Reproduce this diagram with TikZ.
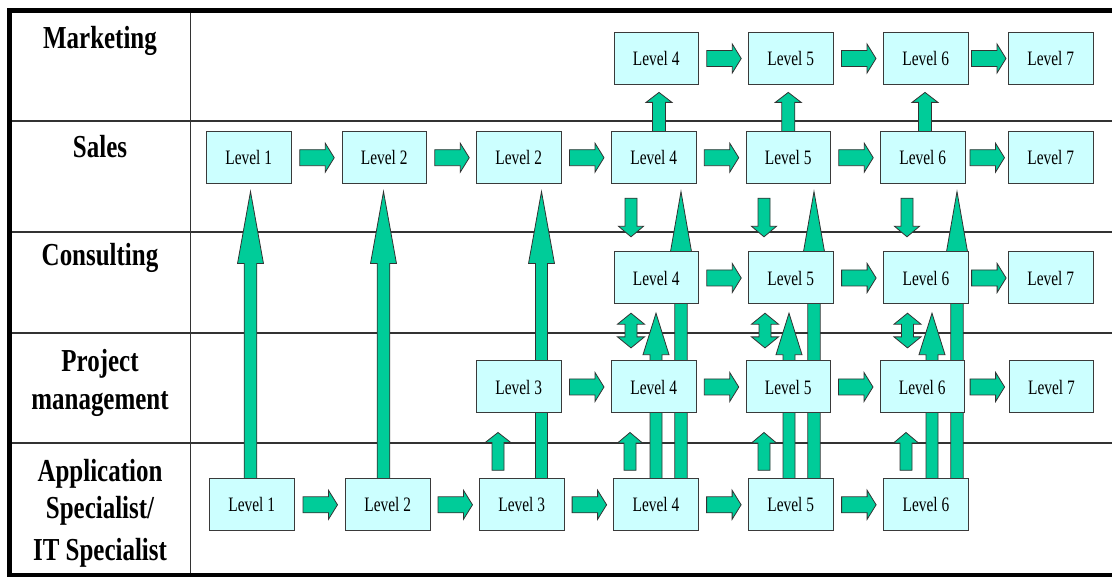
\documentclass[tikz,border=0pt]{standalone}
\usepackage{fontspec}
\setmainfont{Liberation Serif}
\usetikzlibrary{calc}
\pgfdeclarelayer{back}
\pgfsetlayers{back,main}

\definecolor{boxfill}{HTML}{CCFFFF}
\definecolor{arrowfill}{HTML}{00CC99}
\definecolor{gridline}{HTML}{333333}
\definecolor{boxline}{HTML}{3A3A3A}

% condensed text
\newcommand\lvl[1]{\scalebox{0.75}[1]{Level #1}}
\newcommand\role[1]{\scalebox{0.78}[1]{#1}}

\tikzset{
  levelbox/.style={draw=boxline, fill=boxfill, line width=1pt,
    minimum width=84.5pt, minimum height=52pt, inner sep=0pt,
    font=\fontsize{20.5}{24}\selectfont},
  rolelabel/.style={anchor=base, inner sep=0pt,
    font=\fontsize{32}{36}\selectfont\bfseries},
  blk/.style={fill=arrowfill, draw=black!80, line width=0.8pt, line join=miter},
  gridrule/.style={draw=gridline, line width=1.2pt},
  framerule/.style={draw=black, line width=4.5pt, line join=miter},
}

% block arrow pointing right, centred in the gap between two boxes
\newcommand\arrRight[2]{%
  \path[blk] let \p1=(#1.east), \p2=(#2.west),
      \n1={(\x1+\x2)/2+0.5}, \n2={\n1-17.25}, \n3={\n1+17.25}, \n4={\n3-9},
      \n5={\y1} in
    (\n2,{\n5-8}) -- (\n4,{\n5-8}) -- (\n4,{\n5-14.5}) -- (\n3,\n5)
    -- (\n4,{\n5+14.5}) -- (\n4,{\n5+8}) -- (\n2,{\n5+8}) -- cycle;}

% block arrow pointing up: from, to, dx, tail gap, tip gap, shaft half, head half, head length
\newcommand\arrUp[8]{%
  \path[blk] let \p1=(#1.north), \p2=(#2.south),
      \n1={\x1+(#3)}, \n2={\y1+(#4)}, \n3={\y2-(#5)}, \n4={\n3-(#8)} in
    ({\n1-#6},\n2) -- ({\n1-#6},\n4) -- ({\n1-#7},\n4) -- (\n1,\n3)
    -- ({\n1+#7},\n4) -- ({\n1+#6},\n4) -- ({\n1+#6},\n2) -- cycle;}

% block arrow pointing down
\newcommand\arrDown[8]{%
  \path[blk] let \p1=(#1.south), \p2=(#2.north),
      \n1={\x1+(#3)}, \n2={\y1-(#4)}, \n3={\y2+(#5)}, \n4={\n3+(#8)} in
    ({\n1-#6},\n2) -- ({\n1-#6},\n4) -- ({\n1-#7},\n4) -- (\n1,\n3)
    -- ({\n1+#7},\n4) -- ({\n1+#6},\n4) -- ({\n1+#6},\n2) -- cycle;}

% two-headed vertical block arrow between an upper and a lower box
\newcommand\arrBoth[8]{%
  \path[blk] let \p1=(#1.south), \p2=(#2.north),
      \n1={\x1+(#3)}, \n2={\y1-(#4)}, \n3={\n2-(#8)},
      \n4={\y2+(#5)}, \n5={\n4+(#8)} in
    (\n1,\n2) -- ({\n1+#7},\n3) -- ({\n1+#6},\n3) -- ({\n1+#6},\n5)
    -- ({\n1+#7},\n5) -- (\n1,\n4) -- ({\n1-#7},\n5) -- ({\n1-#6},\n5)
    -- ({\n1-#6},\n3) -- ({\n1-#7},\n3) -- cycle;}

\begin{document}
\begin{tikzpicture}[x=1pt,y=1pt]
\useasboundingbox (0,0) rectangle (1112,-577);

% ---- role labels ----
\node[rolelabel] (lmkt) at (100,-49)    {\role{Marketing}};
\node[rolelabel] (lsal) at (100,-157.7) {\role{Sales}};
\node[rolelabel] (lcon) at (100,-266)   {\role{Consulting}};
\node[rolelabel] (lpm1) at (100,-371.7) {\role{Project}};
\node[rolelabel] (lpm2) at (100,-409.3) {\role{management}};
\node[rolelabel] (lap1) at (100,-481.7) {\role{Application}};
\node[rolelabel] (lap2) at (100,-518.3) {\role{Specialist/}};
\node[rolelabel] (lap3) at (100,-560)   {\role{IT Specialist}};

% ---- level boxes ----
% Marketing
\node[levelbox] (m4) at (656.25,-58.5) {\lvl4};
\node[levelbox] (m5) at (790.75,-58.5) {\lvl5};
\node[levelbox] (m6) at (925.75,-58.5) {\lvl6};
\node[levelbox] (m7) at (1050.75,-58.5) {\lvl7};
% Sales
\node[levelbox] (s1) at (248.75,-157.7) {\lvl1};
\node[levelbox] (s2) at (384.25,-157.7) {\lvl2};
\node[levelbox] (s3) at (518.75,-157.7) {\lvl2};
\node[levelbox] (s4) at (653.75,-157.7) {\lvl4};
\node[levelbox] (s5) at (788.25,-157.7) {\lvl5};
\node[levelbox] (s6) at (922.75,-157.7) {\lvl6};
\node[levelbox] (s7) at (1050.75,-157.7) {\lvl7};
% Consulting
\node[levelbox] (c4) at (656.25,-278) {\lvl4};
\node[levelbox] (c5) at (790.75,-278) {\lvl5};
\node[levelbox] (c6) at (926,-278) {\lvl6};
\node[levelbox] (c7) at (1050.75,-278) {\lvl7};
% Project management
\node[levelbox] (p3) at (518.75,-387) {\lvl3};
\node[levelbox] (p4) at (653.75,-387) {\lvl4};
\node[levelbox] (p5) at (788.25,-387) {\lvl5};
\node[levelbox] (p6) at (922.25,-387) {\lvl6};
\node[levelbox] (p7) at (1051.5,-387) {\lvl7};
% Application / IT specialist
\node[levelbox] (a1) at (251.75,-504.8) {\lvl1};
\node[levelbox] (a2) at (387.75,-504.8) {\lvl2};
\node[levelbox] (a3) at (521.75,-504.8) {\lvl3};
\node[levelbox] (a4) at (656,-504.8) {\lvl4};
\node[levelbox] (a5) at (790.75,-504.8) {\lvl5};
\node[levelbox] (a6) at (926,-504.8) {\lvl6};

\begin{pgfonlayer}{back}
  % table rules
  \draw[gridrule] (9.7,-121) -- (1112,-121);
  \draw[gridrule] (9.7,-232) -- (1112,-232);
  \draw[gridrule] (9.7,-333) -- (1112,-333);
  \draw[gridrule] (9.7,-443) -- (1112,-443);
  \draw[gridrule] (190.5,-10.7) -- (190.5,-575);

  % horizontal progression
  \arrRight{m4}{m5} \arrRight{m5}{m6} \arrRight{m6}{m7}
  \arrRight{s1}{s2} \arrRight{s2}{s3} \arrRight{s3}{s4}
  \arrRight{s4}{s5} \arrRight{s5}{s6} \arrRight{s6}{s7}
  \arrRight{c4}{c5} \arrRight{c5}{c6} \arrRight{c6}{c7}
  \arrRight{p3}{p4} \arrRight{p4}{p5} \arrRight{p5}{p6} \arrRight{p6}{p7}
  \arrRight{a1}{a2} \arrRight{a2}{a3} \arrRight{a3}{a4}
  \arrRight{a4}{a5} \arrRight{a5}{a6}

  % long moves from application to sales
  \arrUp{a1}{s1}{-1.25}{-1}{7.4}{6.3}{13}{72}
  \arrUp{a2}{s2}{-4.25}{-1}{7.4}{6.3}{13}{72}
  \arrUp{a3}{s3}{19.75}{-1}{7.4}{6}{13}{72}
  \arrUp{a4}{s4}{25}{-1}{7.4}{6.2}{10.5}{60}
  \arrUp{a5}{s5}{23.25}{-1}{7.4}{6.2}{10.5}{60}
  \arrUp{a6}{s6}{31}{-1}{7.4}{6.2}{10.5}{60}

  % application to consulting
  \arrUp{a4}{c4}{0}{-1}{8.7}{6}{13}{41.5}
  \arrUp{a5}{c5}{-1.75}{-1}{8.7}{6}{13}{41.5}
  \arrUp{a6}{c6}{6}{-1}{8.7}{6}{13}{41.5}

  % application to project management
  \arrUp{a3}{p3}{-23.75}{8}{19}{6}{12.8}{10}
  \arrUp{a4}{p4}{-26}{8}{19}{6}{12.5}{10.5}
  \arrUp{a5}{p5}{-26.75}{8}{19}{6}{12.5}{10.5}
  \arrUp{a6}{p6}{-20}{8}{19}{6}{12.5}{10.5}

  % consulting <-> project management
  \arrBoth{c4}{p4}{-25.25}{8.7}{12.6}{6}{13.5}{11}
  \arrBoth{c5}{p5}{-25.75}{8.7}{12.6}{6}{13.5}{11}
  \arrBoth{c6}{p6}{-18.5}{8.7}{12.6}{6}{13.5}{11}

  % sales to consulting
  \arrDown{s4}{c4}{-22.75}{14}{14.7}{6}{12.5}{10.5}
  \arrDown{s5}{c5}{-24.25}{14}{14.7}{6}{12.5}{10.5}
  \arrDown{s6}{c6}{-15.75}{14}{14.7}{6}{12.5}{10.5}

  % sales to marketing
  \arrUp{s4}{m4}{5.25}{-1}{7.4}{6.5}{13}{10}
  \arrUp{s5}{m5}{0}{-1}{7.4}{6.5}{13}{10}
  \arrUp{s6}{m6}{2.25}{-1}{7.4}{6.5}{13}{10}
\end{pgfonlayer}

% outer frame
\draw[framerule] (1112,-575) -- (9.7,-575) -- (9.7,-10.7) -- (1112,-10.7);
\end{tikzpicture}
\end{document}
